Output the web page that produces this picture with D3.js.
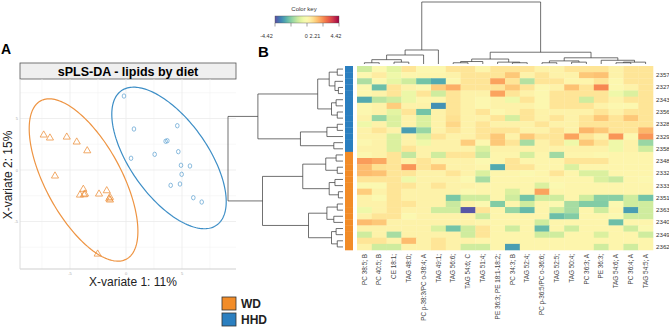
<!DOCTYPE html>
<html><head><meta charset="utf-8">
<script src="https://cdn.jsdelivr.net/npm/d3@7"></script>
<style>body{margin:0;background:#fff;} svg{display:block;font-family:Arial,"Liberation Sans",sans-serif;}</style>
</head><body><svg id="c" width="669" height="334"></svg>
<script>
// ---------- Panel A data ----------
const wdPoints = [[-7.35,3.40],[-6.79,3.11],[-5.29,3.20],[-4.40,2.72],[-3.46,1.87],[-6.34,-0.58],
  [-3.81,-1.87],[-4.11,-2.43],[-3.66,-2.33],[-2.41,-2.33],[-1.72,-2.01],[-1.43,-2.65],[-1.43,-2.91],
  [-2.53,-8.16],[-1.50,-2.80],[-3.75,-2.40]];
const hhdPoints = [[-0.18,7.18],[0.71,3.98],[4.58,4.30],[3.54,2.79],[3.69,2.84],[2.56,1.52],[4.67,1.78],
  [0.45,1.14],[4.91,0.46],[5.71,0.39],[4.97,-0.42],[3.99,-1.49],[4.82,-1.36],[6.01,-2.69],[6.76,-3.11]];
const ellipseWD = {c:[-3.79,-0.97], u:[3.83,-7.68], v:[-2.98,-1.76]};
const ellipseHHD = {c:[3.84,1.17], u:[4.26,-6.52], v:[-2.82,-2.17]};
const axisTicks = [-5,0,5];
const minorTicks = [-7.5,-2.5,2.5,7.5];

// ---------- Panel B data ----------
const lipids = ["PC 38:5; B","PC 40:5; B","CE 18:1;","TAG 48:0;","PC p-38:3/PC o-38:4; A","TAG 49:1;",
  "TAG 56:6;","TAG 54:6; C","TAG 51:4;","PE 36:3; PE 18:1-18:2;","PC 34:3; B","TAG 52:4;",
  "PC p-36:5/PC o-36:6;","TAG 52:5;","TAG 50:4;","PC 36:3; A","PE 36:3;","TAG 54:6; A","PC 36:4; A","TAG 54:5; A"];
const samples = ["","2357","","2327","","2343","","2356","","2328","","2329","","2358",
  "","2348","","2332","","2333","","2351","","2363","","2340","","2349","","2362"];
const diets = ["HHD","HHD","HHD","HHD","HHD","HHD","HHD","HHD","HHD","HHD","HHD","HHD","HHD","HHD",
  "WD","WD","WD","WD","WD","WD","WD","WD","WD","WD","WD","WD","WD","WD","WD","WD"];
const values = [
 [-1.2,0,-0.8,0.7,0.1,0.1,0.7,0.7,0.2,0.7,0.7,0.7,0.3,0.3,0.7,0.7,0.7,0.3,0.7,0.7],
 [0.1,0.5,-0.5,0.2,0.2,0.2,0.3,0.7,0.7,0.7,1.3,0.3,0.7,0.3,0.3,1.3,1.4,0.3,0.7,0.7],
 [-1.7,0,-0.7,-1.2,-2.5,-3.0,0.1,0.7,0.7,1.9,0.7,-1.6,0.7,0.7,0.2,0.2,0.7,0.1,0.7,0.7],
 [0.1,-2.6,0.7,0.3,0.1,1.2,1.7,0.7,0.7,0.7,1.3,0.7,0.1,0.3,1.4,0.7,2.3,0.1,0.3,0.7],
 [0.1,0.3,0.7,-0.6,0.7,-1.2,0.7,0.3,0.3,1.9,0.7,0.3,0.1,0.7,0.7,0.7,0.7,-0.5,-1.0,0.7],
 [-3.0,-1.5,-1.2,-0.6,0.2,0.2,0.7,0.3,0.1,0.3,-0.5,0.7,0.1,0.7,0.7,-1.2,0.7,0.3,0.7,0.7],
 [0.1,0.3,1.2,0.3,0.3,-3.4,0.7,0.3,0.1,0.3,0.3,0.3,0.1,0.7,0.7,0.7,0.3,0.1,0.1,0.7],
 [0.1,0.3,-0.8,0.7,-2.5,0.3,0.7,0.3,0.7,0.1,0.3,0.7,0.3,0.3,0.3,0.3,0.7,0.3,0.7,0.7],
 [0.3,-2.0,-1.0,0.3,-1.0,0.3,0.8,0.3,0.3,0.7,-1.1,0.7,0.3,0.7,0.3,0.7,1.3,0.7,1.3,0.7],
 [-0.5,0.3,-1.0,0.3,-1.0,0.3,1.0,0.3,0.7,0.3,0.3,0.3,0.7,0.3,0.3,0.7,0.7,0.7,0.7,0.7],
 [0.3,0.7,0.3,-3.2,-2.0,0.3,0.7,0.3,0.7,0.7,0.7,0.3,0.3,0.7,0.3,1.6,1.3,0.7,0.7,1.6],
 [0.3,0.3,-1.0,0.3,-1.0,0.7,0.3,0.3,0.7,1.3,0.3,1.3,0.7,0.7,1.9,0.7,0.3,2.1,0.1,2.1],
 [0.1,0.3,-1.0,0.3,-0.5,0.3,0.3,1.2,0.1,1.3,0.7,-1.8,0.3,0.7,-0.5,1.3,0.7,-0.5,0.3,-2.0],
 [0.3,0.3,-1.0,0.7,0.3,0.3,0.3,0.3,-1.0,0.3,0.3,0.3,0.3,0.3,0.3,0.3,0.3,-0.5,0.3,-1.2],
 [0.1,0.3,0.7,-1.4,0.3,-1.2,0.7,0.7,-1.3,0.2,0.2,-1.1,0.2,-1.9,0.2,0.2,0.1,0.2,0.2,0.2],
 [2.0,1.8,0.7,0.3,0.7,0.3,0.3,0.3,0,0.2,0.7,0.2,0.2,0.2,0.7,0.7,0.7,0.2,0.2,0.2],
 [1.5,0.8,0.7,2.1,0.7,1.2,0.3,0.3,0.2,-3.0,0.7,0.7,0.2,0.2,-1.0,0.2,0.2,0.2,0.2,0.2],
 [1.5,1.4,0.7,0.7,0.3,0.3,0.7,0.3,-1.0,0.2,0.2,0,0.2,0.7,0.2,-1.0,-1.0,0.2,0.2,0.2],
 [0.7,0.7,0.7,-0.5,0.3,0.3,0.3,0,-1.8,0.2,0.2,0.2,0.2,0.2,0.2,0.2,-1.0,-1.3,0.2,0.1],
 [0,0,0.7,0.7,0.3,0.7,0.3,0.3,0.2,0.2,0.2,0.2,-1.0,0,0.2,0.2,0.2,0.2,0.2,0.2],
 [1.2,0.3,0.7,0.3,0.3,0.3,0.3,0,0.2,0.2,-1.0,0.2,1.9,0.2,0.2,0.2,0.2,0.2,0.2,0.2],
 [0.3,0,0.7,0.3,0.3,0.3,-2.4,-1.2,-1.2,0.2,-1.2,-2.5,-1.2,-1.2,0.2,-1.2,-2.2,-2.2,-1.2,-2.5],
 [0.3,0.3,0.7,0.7,0.3,0.3,-1.3,0.3,0,-2.3,0.2,-1.2,0.2,0,-1.8,-2.3,-2.3,0,-1.2,-1.2],
 [-0.5,0.3,0.7,0.3,0.3,-1.2,-1.2,-4.3,0.7,0.2,-2.0,-2.7,0.2,-1.2,-1.8,0.2,-1.2,0.2,-3.2,-1.2],
 [0.3,0.7,0.7,0,0.3,0.3,0.3,0.3,-1.2,0.2,0.2,0.2,0.2,-2.6,-2.3,0.2,0.2,0,-1.2,-1.2],
 [1.5,1.3,0.3,0.3,0.3,0.3,0.3,0.3,0.2,0.2,0.2,0.2,-1.2,0.2,0.2,0.2,0.2,-2.6,0.2,0.2],
 [0.3,0.3,0.3,0.3,0.3,-1.0,-2.5,-1.2,0.7,0.2,-1.2,0.2,-2.7,0.2,-1.2,0.2,0.2,0.2,-1.2,0],
 [-1.2,0.3,-1.8,0.3,0.3,0.3,0.3,-1.2,0.7,0.2,0.2,0.2,-1.2,-1.2,0.2,0.2,-1.0,0.2,0.2,-1.2],
 [0.7,0.7,0.3,1.5,0.3,0.7,0.3,0.3,0.2,0.2,0.2,0.2,0.2,0.2,0.2,0.2,0.2,0.2,0.2,0.2],
 [0.3,-1.2,-1.2,0.3,0.3,0.7,0.3,-1.2,-1.2,0.2,-3.2,0.2,0.2,0.2,0.2,0.2,-1.2,0.2,-1.2,0.2]
];
// dendrograms: [mergeHeight, left, right]; leaves = index
const colTree = [1,
  [0.226,[0.145,[0.07,[0.02,0,1],[0.03,2,3]],4],5],
  [0.19,[0.08,[0.04,[0.02,6,7],8],[0.03,9,[0.02,10,11]]],
        [0.1,[0.05,[0.02,12,13],[0.03,14,15]],[0.06,16,[0.03,[0.02,17,18],19]]]]];
const rowTree = [1,
  [0.74,[0.22,[0.12,[0.05,0,1],[0.07,2,[0.04,3,4]]],[0.1,[0.06,5,6],[0.05,7,8]]],
        [0.37,[0.14,[0.05,9,10],11],[0.08,12,13]]],
  [0.70,[0.35,[0.15,[0.06,14,15],[0.05,16,17]],[0.12,[0.07,18,19],[0.04,20,21]]],
        [0.30,[0.14,[0.05,22,23],[0.08,24,25]],[0.1,[0.06,26,27],[0.05,28,29]]]]];
const keyTicks = [-4.42,-2.21,0,2.21,4.42];
const keyLabels = ["-4.42","0","2.21","4.42"];
const keyLabelVals = [-5.6,-0.1,1.1,4.0];
const dietNames = ["WD","HHD"];
const dietColors = {WD:"#f28c28", HHD:"#2b7fc0"};

const svg = d3.select("#c");

// ================= Panel A =================
svg.append("text").attr("x",1).attr("y",54).attr("font-size",14).attr("font-weight","bold").text("A");
const px = {l:20, r:236, t:79, b:269};
const xs = d3.scaleLinear().domain([-5,5]).range([70,182]);
const ys = d3.scaleLinear().domain([-5,5]).range([221.5,118.5]);
const gA = svg.append("g");
gA.append("rect").attr("x",px.l).attr("y",63).attr("width",px.r-px.l).attr("height",16)
  .attr("fill","#efefef").attr("stroke","#555").attr("stroke-width",0.8);
gA.append("text").attr("x",(px.l+px.r)/2).attr("y",75.5).attr("text-anchor","middle")
  .attr("font-size",12.5).attr("font-weight","bold").text("sPLS-DA - lipids by diet");
minorTicks.forEach(t=>{
  gA.append("line").attr("x1",xs(t)).attr("x2",xs(t)).attr("y1",px.t).attr("y2",px.b).attr("stroke","#f3f3f3").attr("stroke-width",0.6);
  gA.append("line").attr("y1",ys(t)).attr("y2",ys(t)).attr("x1",px.l).attr("x2",px.r).attr("stroke","#f3f3f3").attr("stroke-width",0.6);
});
axisTicks.forEach(t=>{
  gA.append("line").attr("x1",xs(t)).attr("x2",xs(t)).attr("y1",px.t).attr("y2",px.b).attr("stroke","#ebebeb").attr("stroke-width",0.8);
  gA.append("line").attr("y1",ys(t)).attr("y2",ys(t)).attr("x1",px.l).attr("x2",px.r).attr("stroke","#ebebeb").attr("stroke-width",0.8);
  gA.append("text").attr("x",xs(t)).attr("y",px.b+6).attr("text-anchor","middle").attr("font-size",4).attr("fill","#aaa").text(t);
  gA.append("text").attr("x",px.l-2).attr("y",ys(t)+1.5).attr("text-anchor","end").attr("font-size",4).attr("fill","#aaa").text(t);
});
gA.append("line").attr("x1",px.l).attr("x2",px.r).attr("y1",px.b).attr("y2",px.b).attr("stroke","#cfcfcf");
gA.append("line").attr("x1",px.l).attr("x2",px.l).attr("y1",px.t).attr("y2",px.b).attr("stroke","#dcdcdc");
function ellipsePts(e){ return d3.range(0,2*Math.PI,Math.PI/90).map(t=>[e.c[0]+e.u[0]*Math.cos(t)+e.v[0]*Math.sin(t), e.c[1]+e.u[1]*Math.cos(t)+e.v[1]*Math.sin(t)]); }
const eLine = d3.line().x(d=>xs(d[0])).y(d=>ys(d[1])).curve(d3.curveLinearClosed);
gA.append("path").attr("d",eLine(ellipsePts(ellipseWD))).attr("fill","none").attr("stroke","#ee9442").attr("stroke-width",1.2);
gA.append("path").attr("d",eLine(ellipsePts(ellipseHHD))).attr("fill","none").attr("stroke","#3d8ec6").attr("stroke-width",1.2);
const tri = d3.symbol().type(d3.symbolTriangle).size(22);
gA.selectAll(".tri").data(wdPoints).join("path").attr("transform",d=>`translate(${xs(d[0])},${ys(d[1])})`)
  .attr("d",tri).attr("fill","none").attr("stroke","#ee9442").attr("stroke-width",0.8);
gA.selectAll(".cir").data(hhdPoints).join("ellipse").attr("cx",d=>xs(d[0])).attr("cy",d=>ys(d[1]))
  .attr("rx",1.8).attr("ry",2.2).attr("fill","none").attr("stroke","#5a9fd0").attr("stroke-width",0.7);
gA.append("text").attr("x",133).attr("y",286).attr("text-anchor","middle").attr("font-size",12).attr("fill","#222").text("X-variate 1: 11%");
gA.append("text").attr("transform","translate(12,175) rotate(-90)").attr("text-anchor","middle").attr("font-size",12).attr("fill","#222").text("X-variate 2: 15%");

// ================= Panel B =================
svg.append("text").attr("x",258).attr("y",57).attr("font-size",15).attr("font-weight","bold").text("B");
const color = d3.scaleSequential(t=>d3.interpolateSpectral(1-t)).domain([-4.42,4.42]);
const kx = d3.scaleLinear().domain([-4.42,4.42]).range([275,339]);
const grad = svg.append("defs").append("linearGradient").attr("id","kg");
d3.range(0,1.0001,0.05).forEach(t=>grad.append("stop").attr("offset",t).attr("stop-color",color(-4.42+8.84*t)));
svg.append("text").attr("x",304).attr("y",11).attr("text-anchor","middle").attr("font-size",6).attr("fill","#333").text("Color key");
svg.append("rect").attr("x",275).attr("y",16).attr("width",64).attr("height",7).attr("fill","url(#kg)").attr("stroke","#555").attr("stroke-width",0.4);
keyTicks.forEach(t=>svg.append("line").attr("x1",kx(t)).attr("x2",kx(t)).attr("y1",23).attr("y2",26.5).attr("stroke","#444").attr("stroke-width",0.5));
keyLabels.forEach((l,i)=>svg.append("text").attr("x",kx(keyLabelVals[i])).attr("y",38).attr("text-anchor","middle").attr("font-size",5.5).attr("fill","#333").text(l));

const hx = d3.scaleBand().domain(d3.range(lipids.length)).range([357,653]);
const hy = d3.scaleBand().domain(d3.range(samples.length)).range([66,250]);
const gH = svg.append("g");
values.forEach((row,i)=>row.forEach((v,j)=>{
  gH.append("rect").attr("x",hx(j)).attr("y",hy(i)).attr("width",hx.bandwidth()+0.3).attr("height",hy.bandwidth()+0.3).attr("fill",color(v));
}));
diets.forEach((d,i)=>gH.append("rect").attr("x",345).attr("y",hy(i)).attr("width",8).attr("height",hy.bandwidth()+0.3).attr("fill",dietColors[d]));
samples.forEach((s,i)=>{ if(s) svg.append("text").attr("x",656).attr("y",hy(i)+hy.bandwidth()/2+2).attr("font-size",6.2).attr("fill","#333").text(s); });
lipids.forEach((l,j)=>svg.append("text").attr("transform",`translate(${hx(j)+hx.bandwidth()/2+2.2},254) rotate(-90)`)
  .attr("text-anchor","end").attr("font-size",6.4).attr("fill","#444").text(l));

function drawTree(node, posOf, hScale, g, horiz){
  if(typeof node === "number") return {p:posOf(node), h:0};
  const a = drawTree(node[1],posOf,hScale,g,horiz), b = drawTree(node[2],posOf,hScale,g,horiz);
  const h = node[0];
  const seg = (p1,h1,p2,h2)=> horiz
    ? g.append("line").attr("x1",hScale(h1)).attr("x2",hScale(h2)).attr("y1",p1).attr("y2",p2)
    : g.append("line").attr("x1",p1).attr("x2",p2).attr("y1",hScale(h1)).attr("y2",hScale(h2));
  seg(a.p,a.h,a.p,h); seg(b.p,b.h,b.p,h); seg(a.p,h,b.p,h);
  return {p:(a.p+b.p)/2, h:h};
}
const gD = svg.append("g").attr("stroke","#333").attr("stroke-width",0.7);
drawTree(colTree, j=>hx(j)+hx.bandwidth()/2, d3.scaleLinear().domain([0,1]).range([64,2]), gD, false);
drawTree(rowTree, i=>hy(i)+hy.bandwidth()/2, d3.scaleLinear().domain([0,1]).range([343,228]), gD, true);

dietNames.forEach((d,i)=>{
  svg.append("rect").attr("x",222).attr("y",297+i*16).attr("width",14).attr("height",13).attr("fill",dietColors[d]).attr("stroke","#333").attr("stroke-width",0.8);
  svg.append("text").attr("x",241).attr("y",308+i*16).attr("font-size",12).attr("font-weight","bold").attr("fill","#222").text(d);
});
</script></body></html>
